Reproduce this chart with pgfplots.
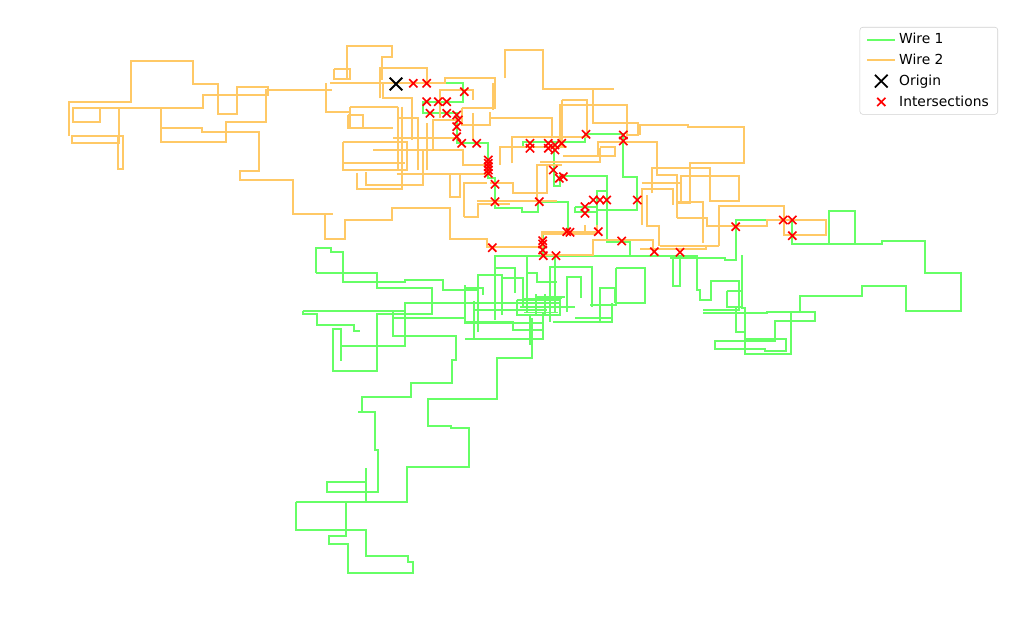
\documentclass[border=0pt]{standalone}
\usepackage{pgfplots}
\pgfplotsset{compat=1.18}
\usepackage{fontspec}
\setmainfont{DejaVu Sans}
\definecolor{wireA}{RGB}{102,255,102}
\definecolor{wireB}{RGB}{255,201,102}
\pgfplotsset{
  linelegend/.style={legend image code/.code={\draw[##1] (0cm,0cm) -- (0.72cm,0cm);}},
  marklegend/.style={legend image code/.code={\draw[##1] plot coordinates {(0.36cm,0cm)};}},
}
\begin{document}
\begin{tikzpicture}
\useasboundingbox (0,0) rectangle (10.3in,6.19in);
\begin{axis}[
  scale only axis, width=10.3in, height=6.19in,
  xmin=0, xmax=1030, ymin=0, ymax=619, y dir=reverse,
  hide axis, clip=false,
  unbounded coords=jump,
  legend cell align=left,
  legend style={at={(axis cs:998,27)}, anchor=north east, draw=black!18, rounded corners=2pt, fill=white,
    font=\fontsize{10}{12}\selectfont, inner xsep=4.5pt, inner ysep=2.4pt, row sep=1.9pt},
]
% ---------------- Wire 1 ----------------
\addplot[wireA, line width=1.4pt, line join=miter, linelegend] table[row sep=\\] {x y\\
396 83.3\\ 463.3 83.3\\ 463.3 101.7\\ 423.3 101.7\\ 423.3 112.7\\ 456.7 112.7\\ 456.7 143.3\\ 488.3 143.3\\ 488.3 178\\ 495 178\\ 495 207.7\\ 521.7 207.7\\ 521.7 212.3\\ 538.3 212.3\\ 538.3 201.7\\ 568.3 201.7\\ 568.3 232\\ 543.3 232\\ 543.3 256\\
nan nan\\
523.3 146\\ 523.3 141.7\\ 585 141.7\\ 585 134.3\\ 623.3 134.3\\ 623.3 176.7\\ 637.3 176.7\\ 637.3 210\\ 596.7 210\\ 596.7 190.7\\ 606.7 190.7\\ 606.7 176\\ 560 176\\ 560 186\\ 554.3 186\\ 554.3 141.7\\
nan nan\\
575 206.7\\ 596.7 206.7\\ nan nan\\ 575 206.7\\ 575 211.7\\ 596.7 211.7\\ nan nan\\ 596.7 210\\ 596.7 232\\ nan nan\\
606.7 190.7\\ 606.7 241.7\\ 630 241.7\\ 630 256\\
nan nan\\
495 320\\ 495 256\\ 697.3 256\\ 697.3 290\\ 700 290\\ 700 300\\ 710.7 300\\ 710.7 280.7\\ 739 280.7\\ 739 310\\ 703 310\\
nan nan\\
670 258.3\\ 725 258.3\\ 725 260\\ 735.7 260\\ 735.7 220\\ 791.7 220\\ 791.7 244\\ 881.7 244\\ 881.7 240.7\\ 925 240.7\\ 925 272.7\\ 961 272.7\\ 961 310.7\\ 906 310.7\\ 906 285.7\\ 861.7 285.7\\ 861.7 295.7\\ 800 295.7\\ 800 312.3\\ 791 312.3\\ 791 354\\ 745 354\\ 745 308\\ 741.7 308\\ 741.7 255\\
nan nan\\
703 313.3\\ 766.7 313.3\\ 766.7 311.7\\ 815 311.7\\ 815 321\\ 775 321\\ 775 340.7\\ 715 340.7\\ 715 349\\ 765 349\\ 765 350.7\\ 786 350.7\\ 786 339\\ 745 339\\
nan nan\\
726.7 290.7\\ 741.7 290.7\\ nan nan\\ 726.7 290.7\\ 726.7 307.3\\ 741.7 307.3\\ nan nan\\ 735.7 307.3\\ 735.7 331.7\\ 745 331.7\\
nan nan\\
829 244\\ 829 210.7\\ 855 210.7\\ 855 244\\
nan nan\\
673.3 256\\ 673.3 285.7\\ 680 285.7\\ 680 256\\
nan nan\\
616 268.3\\ 645 268.3\\ 645 302.7\\ 616 302.7\\ 616 268.3\\
nan nan\\
495 268.3\\ 515 268.3\\ 515 293.3\\ nan nan\\
478.3 331.7\\ 478.3 275\\ 501.7 275\\ 501.7 315\\ nan nan\\
501.7 277.7\\ 522.7 277.7\\ 522.7 306.7\\ nan nan\\
526.7 256\\ 526.7 311.7\\ nan nan\\
526.7 273.3\\ 536.7 273.3\\ 536.7 281.7\\ 556.7 281.7\\ nan nan\\
555 256\\ 555 311.7\\ nan nan\\
550 321.7\\ 550 266.7\\ 591.7 266.7\\ 591.7 306.7\\ nan nan\\
567.3 311.7\\ 567.3 276.7\\ 580.7 276.7\\ 580.7 298.3\\ nan nan\\
600 321.7\\ 600 288.3\\ 615 288.3\\ 615 303.3\\ nan nan\\
611.7 303.3\\ 611.7 321.7\\ 553.3 321.7\\ nan nan\\
575 318.3\\ 611.7 318.3\\ nan nan\\
590 305\\ 616.7 305\\ nan nan\\
465 288.3\\ 483.3 288.3\\ 483.3 295\\ nan nan\\
465 285\\ 465 321.7\\ 513.3 321.7\\ 513.3 330\\ 543.3 330\\ 543.3 311.7\\ nan nan\\
530 315\\ 530 345\\ nan nan\\
460 303.3\\ 560 303.3\\ nan nan\\
473.3 310\\ 546.7 310\\ nan nan\\
516.7 300\\ 560 300\\ 560 315\\ 516.7 315\\ 516.7 300\\ nan nan\\
520 306.7\\ 575 306.7\\ nan nan\\
535 296.7\\ 565 296.7\\ nan nan\\
522 298.5\\ 562 298.5\\ nan nan\\
524 312.5\\ 558 312.5\\ nan nan\\
536 294\\ 536 316\\ nan nan\\
545 294\\ 545 316\\ nan nan\\
465 339\\ 543.3 339\\ 543.3 330\\ nan nan\\
474.3 301\\ 474.3 339\\ nan nan\\
315.7 272.7\\ 315.7 248.3\\ 330.7 248.3\\ 330.7 251.7\\ 342.7 251.7\\ 342.7 281.7\\ 405 281.7\\ 405 280\\ 443.3 280\\ 443.3 290\\ 478.3 290\\
nan nan\\
315.7 272.7\\ 376.7 272.7\\ 376.7 287.7\\ 431.7 287.7\\ 431.7 314.3\\ 376.7 314.3\\ 376.7 371\\ 332.7 371\\ 332.7 329\\ 341 329\\ 341 360.7\\
nan nan\\
302.7 311\\ 405 311\\ 405 302.7\\ 465 302.7\\
nan nan\\
302.7 311\\ 302.7 314\\ 316.7 314\\ 316.7 325\\ 354 325\\ 354 331\\ 360 331\\
nan nan\\
393.3 311.7\\ 393.3 335.7\\ 456 335.7\\ 456 360\\ 451.7 360\\ 451.7 383.3\\ 411 383.3\\ 411 396.7\\ 361.7 396.7\\ 361.7 411.7\\ 375 411.7\\ 375 450\\ 377.7 450\\ 377.7 491.7\\ 326.7 491.7\\ 326.7 481.7\\ 366.7 481.7\\
nan nan\\
366 468\\ 366 502\\
nan nan\\
295.7 501.7\\ 406.7 501.7\\ 406.7 466.7\\ 469 466.7\\ 469 428.3\\ 450.7 428.3\\ 450.7 426\\ 427.7 426\\ 427.7 399\\ 496.7 399\\ 496.7 357.7\\ 531.7 357.7\\ 531.7 318\\
nan nan\\
295.7 501.7\\ 295.7 530\\ 366 530\\ 366 556\\ 408.3 556\\ 408.3 561.7\\ 413.3 561.7\\ 413.3 572.7\\ 347.7 572.7\\ 347.7 544\\ 329 544\\ 329 536\\ 346 536\\ 346 501.7\\
nan nan\\
340 346\\ 405 346\\ 405 311\\
nan nan\\
393.3 318.3\\ 465 318.3\\ 465 323.3\\ 543.3 323.3\\
nan nan\\
358.3 411.7\\ 361.7 411.7\\
};
\addlegendentry{Wire 1}
% ---------------- Wire 2 ----------------
\addplot[wireB, line width=1.4pt, line join=miter, linelegend] table[row sep=\\] {x y\\
69 135.7\\ 69 101.7\\ 130.7 101.7\\ 130.7 60.7\\ 193 60.7\\ 193 83.7\\ 217.7 83.7\\ 217.7 113.7\\ 236.7 113.7\\ 236.7 86.7\\ 268 86.7\\ 268 95\\ 202.7 95\\ 202.7 107.7\\ 72.7 107.7\\ 72.7 121.7\\ 100 121.7\\ 100 107.7\\
nan nan\\
119 107.7\\ 119 142.7\\ 71.7 142.7\\ 71.7 135.7\\ 123 135.7\\ 123 169\\ 117.7 169\\ 117.7 135.7\\
nan nan\\
161 107.7\\ 161 141.7\\ 225.7 141.7\\ 225.7 121.7\\ 266 121.7\\ 266 90\\ 331.7 90\\
nan nan\\
161 127.7\\ 202 127.7\\ 202 131.7\\ 259 131.7\\ 259 170.7\\ 240 170.7\\ 240 179.7\\ 292.7 179.7\\ 292.7 214\\ 333 214\\
nan nan\\
325 214\\ 325 239\\ 345 239\\ 345 219.7\\ 391.7 219.7\\ 391.7 208.3\\ 450 208.3\\ 450 239\\ 486.7 239\\ 486.7 246.7\\ 541.7 246.7\\ 541.7 231.7\\ 596.7 231.7\\ 596.7 225\\
nan nan\\
541.7 233.7\\ 596.7 233.7\\
nan nan\\
541.7 255\\ 593.3 255\\ 593.3 240\\ 653.3 240\\ 653.3 251.7\\
nan nan\\
585 225\\ 585 231.7\\
nan nan\\
640 249\\ 706 249\\ 706 245.7\\
nan nan\\
330 83.3\\ 445 83.3\\ 445 78.3\\ 495 78.3\\ 495 108.3\\ 461.7 108.3\\
nan nan\\
347.3 79.3\\ 347.3 45.7\\ 392.3 45.7\\ 392.3 57.3\\ 381.7 57.3\\ 381.7 80\\
nan nan\\
334 69\\ 350 69\\ 350 79.3\\ 334 79.3\\ 334 69\\
nan nan\\
380 98.3\\ 380 67.7\\ 426.7 67.7\\ 426.7 83.3\\
nan nan\\
505 78.3\\ 505 50\\ 543.3 50\\ 543.3 89.3\\ 614.3 89.3\\
nan nan\\
593.3 88.3\\ 593.3 122.7\\ 638.3 122.7\\ 638.3 135\\ 626.7 135\\ 626.7 105\\ 560 105\\ 560 146.7\\
nan nan\\
561.7 100\\ 586.7 100\\ 586.7 131.7\\
nan nan\\
561.7 100\\ 561.7 146.7\\
nan nan\\
490 118.3\\ 551.7 118.3\\ 551.7 138\\
nan nan\\
493.3 83.3\\ 493.3 110\\
nan nan\\
511.7 163.3\\ 511.7 136.7\\ 590 136.7\\
nan nan\\
500 165\\ 500 147.3\\ 566.7 147.3\\
nan nan\\
598.3 156\\ 598.3 141.7\\ 656.7 141.7\\ 656.7 175\\ 676.7 175\\ 676.7 217.7\\
nan nan\\
563.3 156\\ 615 156\\ 615 146.7\\ 600 146.7\\
nan nan\\
540 161.7\\ 600 161.7\\ 600 148\\
nan nan\\
536.7 200\\ 536.7 165\\ 561.7 165\\
nan nan\\
490 183.3\\ 513.3 183.3\\ 513.3 193.3\\ 546.7 193.3\\ 546.7 165\\
nan nan\\
476.7 201\\ 556.7 201\\
nan nan\\
640 135\\ 640 125\\ 688.3 125\\ 688.3 126.7\\ 744.3 126.7\\ 744.3 163.3\\ 690 163.3\\ 690 203.3\\ 676.7 203.3\\
nan nan\\
651.7 193.3\\ 651.7 168.3\\ 710 168.3\\ 710 200.7\\ 739.3 200.7\\ 739.3 175.7\\ 680.7 175.7\\ 680.7 203.3\\
nan nan\\
641.7 225\\ 641.7 189.3\\ 673.3 189.3\\ 673.3 205\\
nan nan\\
641.7 183.3\\ 681.7 183.3\\
nan nan\\
676.7 202.3\\ 703.3 202.3\\ 703.3 243.3\\
nan nan\\
719 245.7\\ 719 205.7\\ 784 205.7\\ 784 235\\ 826 235\\ 826 220\\ 766.7 220\\ 766.7 225.7\\ 706.7 225.7\\ 706.7 218.3\\ 676.7 218.3\\
nan nan\\
660 245.7\\ 719 245.7\\
nan nan\\
646.7 195\\ 646.7 225.7\\ 659 225.7\\ 659 245.7\\
nan nan\\
343.3 141.7\\ 406.7 141.7\\ 406.7 170\\ 343.3 170\\ 343.3 141.7\\
nan nan\\
343.3 162.7\\ 405 162.7\\
nan nan\\
356.7 172.7\\ 356.7 189\\ 402.3 189\\ 402.3 160\\
nan nan\\
366 172\\ 366 185\\ 423.3 185\\ 423.3 150\\
nan nan\\
396.7 174\\ 486.7 174\\
nan nan\\
450 174\\ 450 196.7\\ 460 196.7\\ 460 174\\
nan nan\\
464 216.7\\ 464 183.3\\ 486.7 183.3\\
nan nan\\
464 216.7\\ 478.3 216.7\\ 478.3 204.3\\ 510 204.3\\
nan nan\\
398.3 106.7\\ 398.3 170\\
nan nan\\
401.7 106.7\\ 401.7 170\\
nan nan\\
350 106.7\\ 398.3 106.7\\
nan nan\\
350 106.7\\ 350 128.3\\ 393.3 128.3\\
nan nan\\
325.7 83.3\\ 325.7 111.7\\ 350 111.7\\
nan nan\\
348.3 115\\ 348.3 127.7\\ 363.3 127.7\\ 363.3 115\\ 348.3 115\\
nan nan\\
398.3 118.3\\ 418.3 118.3\\ 418.3 170\\
nan nan\\
393.3 138.3\\ 456.7 138.3\\
nan nan\\
433.3 150\\ 433.3 120\\ 456.7 120\\
nan nan\\
373.3 150\\ 463.3 150\\ 463.3 165\\ 486.7 165\\
nan nan\\
440 118.3\\ 440 90\\ 473.3 90\\ 473.3 100\\
nan nan\\
383.3 83.3\\ 383.3 98.3\\ 411.7 98.3\\ 411.7 140\\
nan nan\\
473 113\\ 473 140\\
nan nan\\
461.7 108.3\\ 461.7 125\\ 490 125\\ 490 111.7\\
nan nan\\
426.7 123.3\\ 426.7 170\\
};
\addlegendentry{Wire 2}
% ---------------- Origin ----------------
\addplot[only marks, mark=x, mark size=6.5pt, mark options={draw=black, line width=1.3pt}, marklegend] table[row sep=\\] {x y\\ 396 84\\};
\addlegendentry{Origin}
% ---------------- Intersections ----------------
\addplot[only marks, mark=x, mark size=4.2pt, mark options={draw=red, line width=1.2pt}, marklegend] table[row sep=\\] {x y\\
413.3 83.3\\ 426.7 83.3\\ 464.3 91.7\\ 426.7 101.7\\ 438.3 101.7\\ 446.7 101.7\\ 430 113.3\\ 446.7 113.3\\ 456.7 115\\ 458.3 120\\ 456.7 126.7\\ 456.7 136.7\\ 461.7 143.3\\ 476.7 143.3\\ 488.3 160\\ 488.3 163.3\\ 488.3 166.7\\ 488.3 170\\ 488.3 173.3\\ 495 184.3\\ 495 201.7\\ 539.3 201.7\\ 530 143.3\\ 530 148.3\\ 548.3 143.3\\ 548.3 148.3\\ 555 145\\ 555 150\\ 561.7 143.3\\ 553.3 170\\ 559.3 178.3\\ 563.3 176.7\\ 586 134.3\\ 623.3 135\\ 623.3 141\\ 585 206.7\\ 585 213.3\\ 593.3 200\\ 600 200\\ 606.7 200\\ 637.3 200\\ 492.3 247.7\\ 542.7 240.7\\ 542.7 244\\ 542.7 250\\ 543.3 255.7\\ 556 255.7\\ 566.7 231.7\\ 570 232.3\\ 598.3 231.7\\ 621.7 241\\ 654.3 251.7\\ 680 252.3\\ 735.7 226.7\\ 783.3 220\\ 792.3 220\\ 792.3 235.7\\
};
\addlegendentry{Intersections}
\end{axis}
\end{tikzpicture}
\end{document}
